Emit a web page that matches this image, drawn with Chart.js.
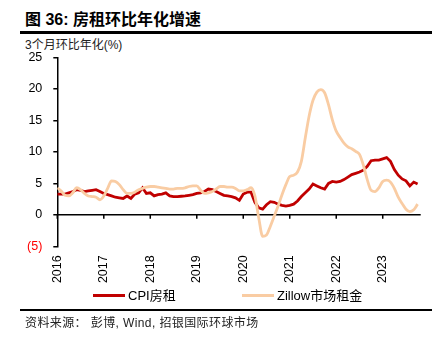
<!DOCTYPE html>
<html>
<head>
<meta charset="utf-8">
<script src="https://cdn.jsdelivr.net/npm/chart.js@4"></script>
<style>
  body { margin: 0; width: 445px; height: 342px; background: #fff; position: relative; overflow: hidden;
         font-family: "Liberation Sans", "Noto Sans CJK SC", sans-serif; color: #000; }
  .abs { position: absolute; white-space: nowrap; }
  #title { left: 25px; top: 6px; font-size: 16px; font-weight: bold; }
  #rule1 { left: 20px; top: 31px; width: 412px; height: 2.5px; background: #000; }
  #unit { left: 25px; top: 35px; font-size: 12px; color: #222; }
  #chartBox { left: 0; top: 39px; width: 445px; height: 251px; }
  .leg { top: 287px; font-size: 13px; line-height: 18px; }
  .swatch { display: inline-block; width: 32px; height: 3px; vertical-align: middle; margin-right: 3px; margin-top: -2px; }
  #rule2 { left: 20px; top: 309px; width: 412px; height: 2px; background: #000; }
  #source { left: 25px; top: 313px; font-size: 12px; letter-spacing: 0.4px; color: #222; }
</style>
</head>
<body>
<div class="abs" id="title">图 36: 房租环比年化增速</div>
<div class="abs" id="rule1"></div>
<div class="abs" id="unit">3个月环比年化(%)</div>
<div class="abs" id="chartBox"><canvas id="myChart" width="445" height="251"></canvas></div>
<div class="abs leg" id="leg1" style="left:93px"><span class="swatch" id="sw1"></span>CPI房租</div>
<div class="abs leg" id="leg2" style="left:242px"><span class="swatch" id="sw2"></span>Zillow市场租金</div>
<div class="abs" id="rule2"></div>
<div class="abs" id="source">资料来源： 彭博, Wind, 招银国际环球市场</div>
<script>
// monthly, Jan 2016 .. Oct 2023
const years = ['2016', '2017', '2018', '2019', '2020', '2021', '2022', '2023']
const seriesNames = ['CPI房租', 'Zillow市场租金']
const cpiRent = [
    3.3, 3.3, 3.3, 3.5, 3.7, 4.0, 3.9, 3.7, 3.8, 3.9, 4.0, 3.7,
    3.4, 3.2, 3.0, 2.8, 2.7, 2.6, 3.0, 2.6, 3.3, 3.5, 4.3, 3.4,
    3.5, 3.0, 3.2, 3.3, 3.5, 3.0, 2.9, 2.9, 2.95, 3.0, 3.1, 3.2,
    3.4, 3.5, 3.7, 4.1, 4.0, 3.7, 3.4, 3.1, 3.0, 2.9, 2.7, 2.3,
    3.3, 3.6, 3.6, 2.0, 1.1, 0.9, 1.6, 2.1, 2.0, 1.7, 1.5, 1.4,
    1.5, 1.7, 2.2, 2.9, 3.5, 4.1, 4.9, 4.6, 4.3, 4.1, 5.0, 5.3,
    5.2, 5.3, 5.6, 6.0, 6.4, 6.6, 6.8, 7.1, 7.7, 8.6, 8.7, 8.7,
    8.9, 9.1, 8.5, 7.2, 6.3, 5.7, 5.4, 4.6, 5.2, 4.9
]
const zillowRent = [
    4.3, 3.8, 3.1, 3.0, 3.5, 4.3, 4.0, 3.4, 3.0, 2.9, 2.8, 2.4,
    3.0, 4.2, 5.4, 5.3, 4.8, 4.0, 3.4, 3.4, 3.6, 4.0, 4.2, 4.4,
    4.5, 4.5, 4.4, 4.3, 4.2, 4.1, 4.1, 4.2, 4.2, 4.3, 4.5, 4.6,
    4.6, 3.9, 3.4, 3.5, 3.7, 4.1, 4.5, 4.5, 4.4, 4.4, 4.2, 3.8,
    3.8, 4.0, 4.3, 3.0, -0.5, -3.4, -3.2, -1.8, -0.2, 1.4, 3.2, 4.8,
    6.1, 6.3, 6.8, 8.5, 12.2, 15.7, 18.2, 19.5, 19.9, 19.4, 17.5, 15.1,
    13.3, 12.3, 11.4, 10.8, 10.5, 10.1, 9.6, 7.9, 5.6, 3.9, 3.7, 4.3,
    5.3, 5.5, 5.2, 4.2, 2.8, 1.8, 0.9, 0.5, 0.8, 1.7
]
const yMin = -5
const yMax = 25
const yStep = 5

const red = '#C00000'
const peach = '#F9CCA3'

document.getElementById('sw1').style.background = red
document.getElementById('sw2').style.background = peach

// zero line with the year tick marks hanging under it
const zeroAxis = {
    id: 'zeroAxis',
    beforeDatasetsDraw(chart) {
        const { ctx, chartArea, scales } = chart
        const y0 = scales.y.getPixelForValue(0)
        ctx.save()
        ctx.strokeStyle = '#000'
        ctx.lineWidth = 1.5
        ctx.beginPath()
        ctx.moveTo(chartArea.left, y0)
        ctx.lineTo(chartArea.right, y0)
        scales.x.ticks.forEach(t => {
            const px = scales.x.getPixelForValue(t.value)
            ctx.moveTo(px, y0)
            ctx.lineTo(px, y0 + 4)
        })
        ctx.stroke()
        ctx.restore()
    }
}

const toPoints = arr => arr.map((v, i) => ({ x: i, y: v }))

var ctx = document.getElementById('myChart').getContext('2d')
let myChart = new Chart(ctx, {
    type: 'line',
    data: {
        datasets: [{
            label: seriesNames[0],
            data: toPoints(cpiRent),
            borderColor: red,
            borderWidth: 2.8,
            pointRadius: 0,
            tension: 0,
            order: 1
        }, {
            label: seriesNames[1],
            data: toPoints(zillowRent),
            borderColor: peach,
            borderWidth: 2.8,
            pointRadius: 0,
            tension: 0.4,
            cubicInterpolationMode: 'monotone',
            order: 0
        }]
    },
    options: {
        responsive: false,
        animation: false,
        layout: { padding: { top: 10.7, right: 24.3, left: 0, bottom: 0 } },
        plugins: { legend: { display: false }, tooltip: { enabled: false } },
        scales: {
            x: {
                type: 'linear',
                min: 0,
                max: 93.8,
                afterBuildTicks: s => { s.ticks = years.map((y, i) => ({ value: i * 12 })) },
                afterFit: s => { s.height = 43.7 },
                grid: { display: false },
                border: { display: false },
                ticks: {
                    autoSkip: false,
                    minRotation: 90,
                    maxRotation: 90,
                    padding: 1,
                    color: '#000',
                    font: { family: 'Liberation Sans', size: 12.5 },
                    callback: v => years[Math.round(v / 12)]
                }
            },
            y: {
                min: yMin,
                max: yMax,
                afterFit: s => { s.width = 57.3 },
                border: { display: true, color: '#000', width: 1.5 },
                grid: { drawOnChartArea: false, drawTicks: true, tickLength: 4, color: '#000', lineWidth: 1.5 },
                ticks: {
                    stepSize: yStep,
                    padding: 11,
                    color: c => c.tick.value < 0 ? '#FF0000' : '#000',
                    font: { family: 'Liberation Sans', size: 12.5 },
                    callback: v => v < 0 ? '(' + Math.abs(v) + ')' : v
                }
            }
        }
    },
    plugins: [zeroAxis]
})
</script>
</body>
</html>
